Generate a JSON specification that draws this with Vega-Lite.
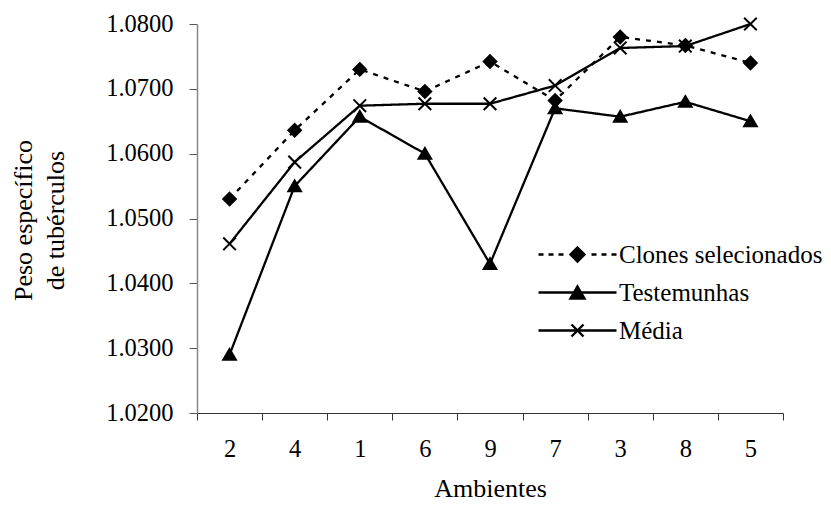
{
  "$schema": "https://vega.github.io/schema/vega-lite/v6.json",
  "width": 586,
  "height": 389,
  "autosize": {"type": "none"},
  "padding": {"left": 197, "top": 24, "right": 48, "bottom": 95},
  "background": "white",
  "config": {
    "view": {"stroke": null},
    "font": "Liberation Serif",
    "axis": {"labelFont": "Liberation Serif", "titleFont": "Liberation Serif", "labelColor": "black", "titleColor": "black", "titleFontWeight": "normal", "grid": false},
    "legend": {"labelFont": "Liberation Serif", "labelFontSize": 25, "labelColor": "black", "labelLimit": 400, "symbolSize": 400, "symbolStrokeWidth": 2.4, "symbolOpacity": 1}
  },
  "data": {"values": [
    {"amb": "2", "serie": "Clones selecionados", "v": 1.0530},
    {"amb": "4", "serie": "Clones selecionados", "v": 1.0636},
    {"amb": "1", "serie": "Clones selecionados", "v": 1.0730},
    {"amb": "6", "serie": "Clones selecionados", "v": 1.0696},
    {"amb": "9", "serie": "Clones selecionados", "v": 1.0742},
    {"amb": "7", "serie": "Clones selecionados", "v": 1.0682},
    {"amb": "3", "serie": "Clones selecionados", "v": 1.0780},
    {"amb": "8", "serie": "Clones selecionados", "v": 1.0767},
    {"amb": "5", "serie": "Clones selecionados", "v": 1.0740},
    {"amb": "2", "serie": "Testemunhas", "v": 1.0290},
    {"amb": "4", "serie": "Testemunhas", "v": 1.0550},
    {"amb": "1", "serie": "Testemunhas", "v": 1.0657},
    {"amb": "6", "serie": "Testemunhas", "v": 1.0600},
    {"amb": "9", "serie": "Testemunhas", "v": 1.0430},
    {"amb": "7", "serie": "Testemunhas", "v": 1.0670},
    {"amb": "3", "serie": "Testemunhas", "v": 1.0657},
    {"amb": "8", "serie": "Testemunhas", "v": 1.0680},
    {"amb": "5", "serie": "Testemunhas", "v": 1.0650},
    {"amb": "2", "serie": "Média", "v": 1.0461},
    {"amb": "4", "serie": "Média", "v": 1.0587},
    {"amb": "1", "serie": "Média", "v": 1.0674},
    {"amb": "6", "serie": "Média", "v": 1.0677},
    {"amb": "9", "serie": "Média", "v": 1.0677},
    {"amb": "7", "serie": "Média", "v": 1.0705},
    {"amb": "3", "serie": "Média", "v": 1.0763},
    {"amb": "8", "serie": "Média", "v": 1.0766},
    {"amb": "5", "serie": "Média", "v": 1.0800}
  ]},
  "encoding": {
    "x": {
      "field": "amb", "type": "nominal",
      "sort": ["2", "4", "1", "6", "9", "7", "3", "8", "5"],
      "scale": {"type": "band", "paddingInner": 0, "paddingOuter": 0},
      "axis": {
        "title": "Ambientes", "labelAngle": 0, "labelFontSize": 24.5, "titleFontSize": 26,
        "tickBand": "extent", "tickSize": 7, "tickColor": "#333333", "domainColor": "#333333",
        "labelPadding": 17, "titleX": 293, "titleY": 83, "titleBaseline": "alphabetic", "titleAlign": "center"
      }
    },
    "y": {
      "field": "v", "type": "quantitative",
      "scale": {"domain": [1.02, 1.08], "zero": false, "nice": false},
      "axis": {
        "title": ["Peso específico", "de tubérculos"], "format": ".4f", "values": [1.02, 1.03, 1.04, 1.05, 1.06, 1.07, 1.08],
        "labelFontSize": 24.5, "titleFontSize": 26, "tickSize": 8, "tickColor": "#555555", "domainColor": "#888888", "domainWidth": 1.5,
        "labelPadding": 16, "titleAngle": 270, "titleX": -166, "titleY": 196, "titleBaseline": "alphabetic", "titleAlign": "center", "titleLineHeight": 32
      }
    }
  },
  "layer": [
    {
      "mark": {"type": "line", "color": "black", "strokeWidth": 2.3},
      "encoding": {
        "detail": {"field": "serie"},
        "strokeDash": {"field": "serie", "type": "nominal", "scale": {"domain": ["Clones selecionados", "Testemunhas", "Média"], "range": [[5, 6], [1, 0], [1, 0]]}, "legend": null}
      }
    },
    {
      "mark": {"type": "point", "filled": true, "color": "black", "stroke": "black", "strokeWidth": 2, "size": 160, "opacity": 1},
      "encoding": {
        "shape": {"field": "serie", "type": "nominal", "scale": {"domain": ["Clones selecionados", "Testemunhas", "Média"], "range": ["M0,-1L1,0L0,1L-1,0Z", "M0,-0.9L1,0.8L-1,0.8Z", "M-1,-1L1,1M1,-1L-1,1"]}, "legend": null}
      }
    },
    {
      "transform": [{"filter": "datum.v < 0"}],
      "mark": {"type": "point", "filled": false, "color": "black", "fill": "black", "stroke": "black", "strokeWidth": 2.4, "size": 400, "opacity": 1},
      "encoding": {
        "shape": {
          "field": "serie", "type": "nominal",
          "scale": {"domain": ["Clones selecionados", "Testemunhas", "Média"], "range": [
            "M-3.9,0H-3.4M-2.9,0H-2.4M-1.9,0H-1.4M1.4,0H1.9M2.4,0H2.9M3.4,0H3.9M0,-0.7L0.7,0L0,0.7L-0.7,0Z",
            "M-3.9,0H3.9M0,-0.6L0.7,0.6L-0.7,0.6Z",
            "M-3.9,0H3.9M-0.6,-0.6L0.6,0.6M0.6,-0.6L-0.6,0.6"
          ]},
          "legend": {"title": null, "orient": "none", "legendX": 368, "legendY": 218, "labelOffset": 29, "rowPadding": 12, "padding": 0}
        }
      }
    }
  ],
  "resolve": {"scale": {"shape": "independent"}, "legend": {"shape": "independent"}}
}
